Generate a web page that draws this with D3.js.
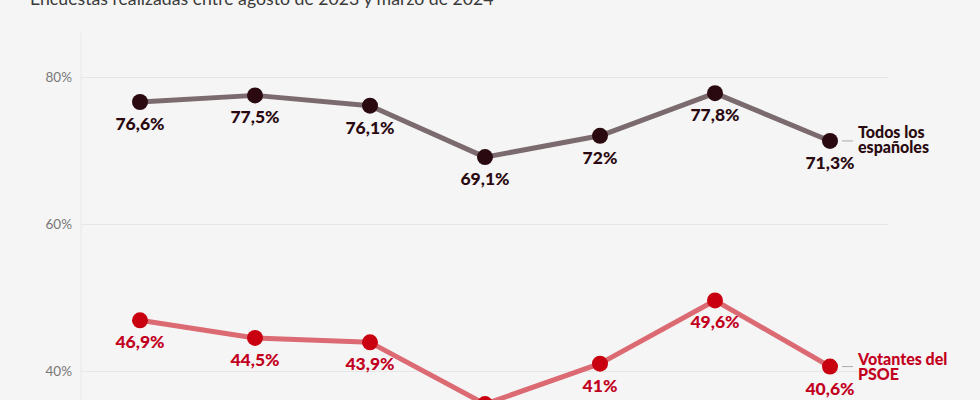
<!DOCTYPE html>
<html><head><meta charset="utf-8">
<script src="https://cdn.jsdelivr.net/npm/d3@7"></script>
<style>
html,body{margin:0;padding:0;background:#f5f5f5;}
svg{display:block;font-family:Lato, "Open Sans", sans-serif;}
</style></head>
<body><svg id="c" width="980" height="400"></svg>
<script>
const surveys = ["ago 2023","sep 2023","oct 2023","nov 2023","ene 2024","feb 2024","mar 2024"];
const todos = [76.6, 77.5, 76.1, 69.1, 72, 77.8, 71.3];
const psoe = [46.9, 44.5, 43.9, 35.5, 41, 49.6, 40.6];
const yTicks = [40, 60, 80];
const seriesNames = [["Todos los","españoles"],["Votantes del","PSOE"]];
const subtitle = "Encuestas realizadas entre agosto de 2023 y marzo de 2024";

const svg = d3.select("#c");
const x = d3.scalePoint().domain(surveys).range([140, 830]);
const y = d3.scaleLinear().domain([40, 80]).range([371, 77]);

svg.append("text").attr("x", 30).attr("y", 5).attr("font-size", 17.7).attr("fill", "#3a3a3a").text(subtitle);

// vertical axis line
svg.append("line").attr("x1", 81).attr("x2", 81).attr("y1", 33).attr("y2", 400)
  .attr("stroke", "#e8e8e8").attr("stroke-width", 1);

const yAxis = d3.axisLeft(y).tickValues(yTicks).tickSize(-(888 - 81)).tickPadding(9)
  .tickFormat(d => d + "%");
const ga = svg.append("g").attr("transform", "translate(81,0)").call(yAxis);
ga.select(".domain").remove();
ga.selectAll(".tick line").attr("stroke", "#e6e6e6");
ga.selectAll(".tick text").attr("fill", "#777").attr("font-size", 13.5).attr("font-family", "Lato, sans-serif");

const series = [
  {vals: todos, line: "#7c6b6e", dot: "#2a0a10", label: "#2a0a10", name: seriesNames[0], nameDy: -3},
  {vals: psoe, line: "#dc6a72", dot: "#c8000f", label: "#c2001e", name: seriesNames[1], nameDy: -2}
];

const lineGen = d3.line().x((d, i) => x(surveys[i])).y(d => y(d));

series.forEach(s => {
  svg.append("path").datum(s.vals).attr("d", lineGen).attr("fill", "none")
    .attr("stroke", s.line).attr("stroke-width", 5).attr("stroke-linejoin", "round");
  svg.selectAll(null).data(s.vals).enter().append("circle")
    .attr("cx", (d, i) => x(surveys[i])).attr("cy", d => y(d)).attr("r", 8).attr("fill", s.dot);
  svg.selectAll(null).data(s.vals).enter().append("text")
    .attr("x", (d, i) => x(surveys[i])).attr("y", d => y(d) + 28)
    .attr("text-anchor", "middle").attr("font-size", 17.5).attr("font-weight", 900)
    .attr("fill", s.label).text(d => String(d).replace(".", ",") + "%");
  const last = s.vals[s.vals.length - 1];
  const lx = x(surveys[surveys.length - 1]);
  svg.append("line").attr("x1", lx + 12).attr("x2", lx + 23).attr("y1", y(last)).attr("y2", y(last))
    .attr("stroke", "#aaa").attr("stroke-width", 1);
  const t = svg.append("text").attr("x", lx + 28).attr("y", y(last) + s.nameDy)
    .attr("font-size", 16).attr("font-weight", 900).attr("fill", s.label);
  s.name.forEach((n, k) => t.append("tspan").attr("x", lx + 28).attr("dy", k === 0 ? 0 : 15).text(n));
});
</script></body></html>
